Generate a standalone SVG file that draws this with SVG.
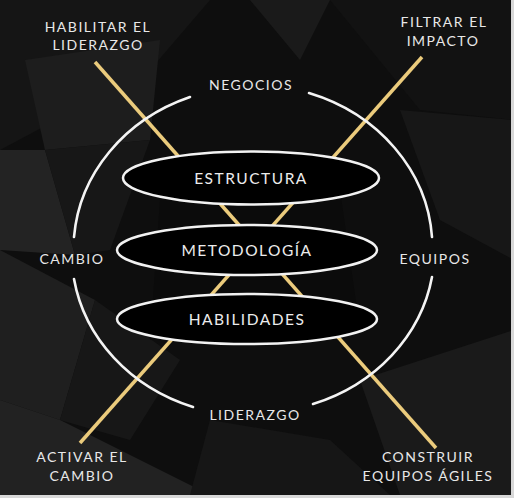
<svg xmlns="http://www.w3.org/2000/svg" width="514" height="498" viewBox="0 0 514 498">
  <style>
    .lbl { font-family: "Lato", "Noto Sans", "Liberation Sans", sans-serif; fill: #e8e8e8; font-size: 14px; letter-spacing: 1.5px; text-anchor: middle; }
    .in { font-family: "Lato", "Noto Sans", "Liberation Sans", sans-serif; fill: #ececec; font-size: 15.5px; letter-spacing: 1.5px; text-anchor: middle; }
    .node ellipse { fill: #000; stroke: #f2f2f2; stroke-width: 2.5; }
    .arc { fill: none; stroke: #f4f4f4; stroke-width: 2.6; stroke-linecap: round; }
    .gold { stroke: #ebcb7c; stroke-width: 3.5; stroke-linecap: butt; }
  </style>
  <!-- background -->
  <g id="background">
    <rect x="0" y="0" width="514" height="498" fill="#0e0e0e"/>
    <polygon points="0,0 210,0 150,70 0,150" fill="#151515"/>
    <polygon points="25,60 160,40 150,140 45,150" fill="#1d1d1d"/>
    <polygon points="0,150 45,150 75,255 0,250" fill="#232323"/>
    <polygon points="45,150 150,140 110,250 75,255" fill="#171717"/>
    <polygon points="0,250 95,300 60,420 0,400" fill="#1f1f1f"/>
    <polygon points="95,300 180,360 130,440 60,420" fill="#171717"/>
    <polygon points="0,400 60,420 210,495 0,495" fill="#222222"/>
    <polygon points="210,420 330,440 390,495 190,495" fill="#161616"/>
    <polygon points="330,0 514,0 514,120 420,110" fill="#121212"/>
    <polygon points="250,0 330,0 300,60" fill="#1a1a1a"/>
    <polygon points="400,110 514,120 514,260 440,220" fill="#171717"/>
    <polygon points="360,380 514,330 514,495 400,495" fill="#1a1a1a"/>
    <polygon points="160,200 340,190 360,330 150,340" fill="#0b0b0b"/>
    <rect x="511" y="0" width="3" height="498" fill="#d8d8d8"/>
    <rect x="0" y="495" width="514" height="3" fill="#d8d8d8"/>
  </g>
  <!-- connectors -->
  <g id="connectors">
    <line class="gold" x1="95" y1="62" x2="436" y2="448"/>
    <line class="gold" x1="422" y1="57" x2="80" y2="443"/>
    <path class="arc" d="M309,93 A180,163 0 0 1 432,237"/>
    <path class="arc" d="M432,277 A180,163 0 0 1 313,404"/>
    <path class="arc" d="M193,407 A180,163 0 0 1 74,279"/>
    <path class="arc" d="M74,237 A180,163 0 0 1 190,97"/>
  </g>
  <!-- outer labels -->
  <g id="habilitar"><text class="lbl" x="98" y="32">HABILITAR EL</text><text class="lbl" x="98" y="50">LIDERAZGO</text></g>
  <g id="filtrar"><text class="lbl" x="444" y="27">FILTRAR EL</text><text class="lbl" x="443" y="46">IMPACTO</text></g>
  <g id="negocios"><text class="lbl" x="251" y="90">NEGOCIOS</text></g>
  <g id="cambio"><text class="lbl" x="72" y="264">CAMBIO</text></g>
  <g id="equipos"><text class="lbl" x="435" y="264">EQUIPOS</text></g>
  <g id="liderazgo"><text class="lbl" x="255" y="420">LIDERAZGO</text></g>
  <g id="activar"><text class="lbl" x="82" y="462">ACTIVAR EL</text><text class="lbl" x="82" y="481">CAMBIO</text></g>
  <g id="construir"><text class="lbl" x="428" y="462">CONSTRUIR</text><text class="lbl" x="428" y="481">EQUIPOS ÁGILES</text></g>
  <!-- inner nodes -->
  <g id="estructura" class="node"><ellipse cx="251" cy="178" rx="128" ry="26.5"/><text class="in" x="251" y="183.5">ESTRUCTURA</text></g>
  <g id="metodologia" class="node"><ellipse cx="247" cy="250" rx="130" ry="25"/><text class="in" x="247" y="255.5">METODOLOGÍA</text></g>
  <g id="habilidades" class="node"><ellipse cx="247" cy="319" rx="130" ry="25"/><text class="in" x="247" y="325">HABILIDADES</text></g>
</svg>
